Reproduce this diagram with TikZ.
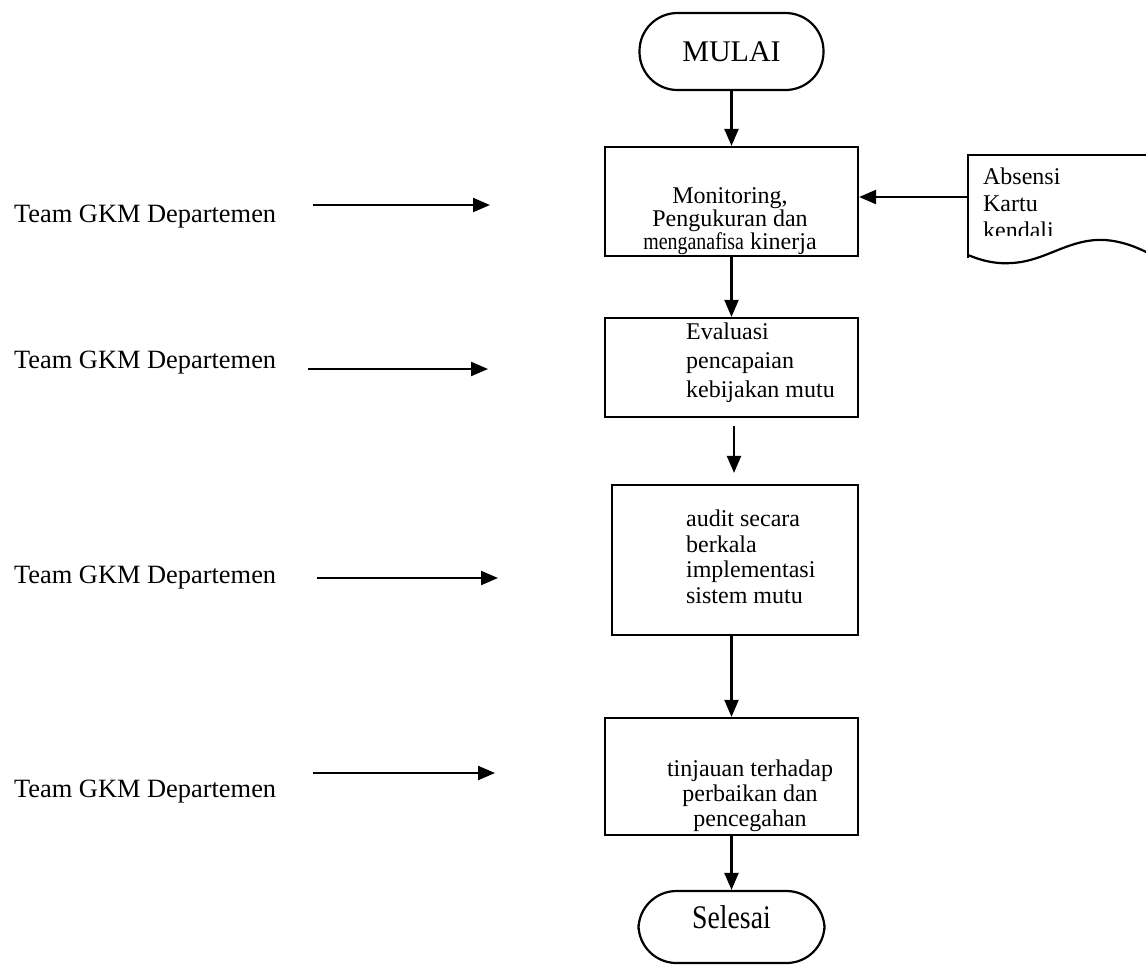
\documentclass[tikz,border=0pt]{standalone}
\usepackage{fontspec}
\setmainfont{Liberation Serif}
\usetikzlibrary{arrows.meta}

\begin{document}
\begin{tikzpicture}[x=0.5pt,y=-0.5pt,line width=1.1pt,
		>={Triangle[length=8.5pt,width=7pt]},
		terminal/.style={draw,rounded corners=19pt,minimum width=92pt,minimum height=38.5pt,inner sep=0pt},
		box/.style={draw,minimum width=126.5pt,inner sep=0pt},
		boxtext/.style={inner sep=0pt},
		team/.style={anchor=base west,inner sep=0pt,font=\fontsize{13.2pt}{15pt}\selectfont}]
		\useasboundingbox (0,0) rectangle (1146,965);
		% flow
		\node (mulai) at (731.5,51.5) [terminal,font=\fontsize{15pt}{17pt}\selectfont] {MULAI};
		\node (monitor) at (731.5,201.5) [box,minimum height=54.5pt] {};
		\node (evaluasi) at (731.5,367.5) [box,minimum height=49.5pt] {};
		\node (audit) at (735,560) [box,minimum width=123pt,minimum height=75pt] {};
		\node (tinjauan) at (731.5,776.5) [box,minimum height=58.5pt] {};
		\node (selesai) at (731.5,927) [terminal,minimum width=93pt,minimum height=36pt,font=\fontsize{16.5pt}{18pt}\selectfont] {\raisebox{-0.5pt}[0pt][0pt]{\scalebox{0.84}[1]{Selesai}}};
		\node (monitortext) at (730,187) [boxtext,anchor=north,align=center,font=\fontsize{12pt}{11.5pt}\selectfont] {Monitoring,\\Pengukuran dan\\\scalebox{0.83}[1]{menganafisa} kinerja};
		\node (evaluasitext) at (685,322) [boxtext,anchor=north west,align=left,font=\fontsize{12pt}{14.5pt}\selectfont] {Evaluasi\\pencapaian\\kebijakan mutu};
		\node (audittext) at (685,509) [boxtext,anchor=north west,align=left,font=\fontsize{12pt}{12.8pt}\selectfont] {audit secara\\berkala\\implementasi\\sistem mutu};
		\node (tinjauantext) at (750,759) [boxtext,anchor=north,align=center,font=\fontsize{12pt}{12.5pt}\selectfont] {tinjauan terhadap\\perbaikan dan\\pencegahan};
		\draw[->] (mulai.south) -- (monitor.north);
		\draw[->] (monitor.south) -- (evaluasi.north);
		\draw[->,shorten <=4pt,shorten >=5.5pt] (evaluasi.south -| 734,0) -- (audit.north -| 734,0);
		\draw[->] (tinjauan.north |- audit.south) -- (tinjauan.north);
		\draw[->] (tinjauan.south) -- (selesai.north);
		% document
		\draw (1146,155) -- (968,155) -- (968,258);
		\draw (968,255) .. controls (985,262) and (998,264) .. (1012,263)
			.. controls (1030,262) and (1045,255) .. (1058,250)
			.. controls (1075,243) and (1090,239) .. (1105,240)
			.. controls (1120,241) and (1135,246) .. (1150,254);
		\begin{scope}
			\clip (968,150) rectangle (1146,235);
			\node (absensi) at (982,167) [boxtext,anchor=north west,align=left,font=\fontsize{12pt}{13.5pt}\selectfont] {Absensi\\Kartu\\kendali};
		\end{scope}
		\coordinate (docin) at (968,197);
		\draw[->] (docin) -- (docin -| monitor.east);
		% team
		\node (team1) at (13,222) [team] {Team GKM Departemen};
		\node (team2) at (13,368) [team] {Team GKM Departemen};
		\node (team3) at (13,583) [team] {Team GKM Departemen};
		\node (team4) at (13,797) [team] {Team GKM Departemen};
		\coordinate (a1) at (313,205); \coordinate (b1) at (490,205);
		\coordinate (a2) at (308,369); \coordinate (b2) at (488,369);
		\coordinate (a3) at (317,578); \coordinate (b3) at (498,578);
		\coordinate (a4) at (313,773); \coordinate (b4) at (495,773);
		\draw[->] (a1) -- (b1);
		\draw[->] (a2) -- (b2);
		\draw[->] (a3) -- (b3);
		\draw[->] (a4) -- (b4);
	\end{tikzpicture}
\end{document}
